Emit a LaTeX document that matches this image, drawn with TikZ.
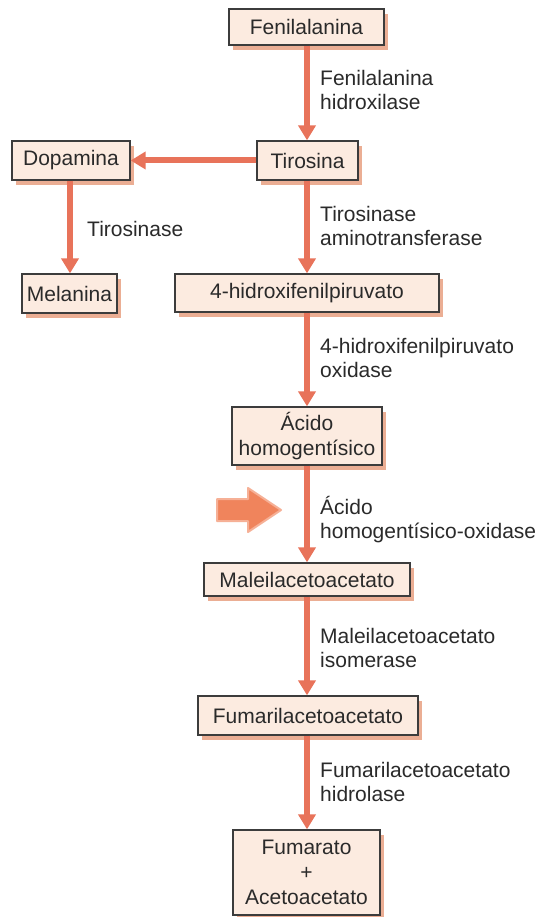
\documentclass[tikz,border=0pt]{standalone}
\usepackage{fontspec}
\setmainfont{Liberation Sans}
\usetikzlibrary{arrows.meta,shadows}
\definecolor{boxfill}{HTML}{FCEBE0}
\definecolor{boxline}{HTML}{3C3C3C}
\definecolor{shadowc}{HTML}{EBAE94}
\definecolor{arrowc}{HTML}{E8735A}
\definecolor{bigarrow}{HTML}{F0845C}
\definecolor{bigarrowedge}{HTML}{F6B096}
\definecolor{txt}{HTML}{2A2A2A}
\begin{document}
\begin{tikzpicture}[x=1pt,y=-1pt,
 box/.style={draw=boxline, line width=1.3pt, fill=boxfill, inner sep=0pt, align=center, text=txt,
   font=\fontsize{21}{25}\selectfont,
   drop shadow={shadow xshift=4pt, shadow yshift=-5pt, fill=shadowc, draw=none, opacity=1}},
 lab/.style={anchor=west, inner sep=0pt, align=left, text=txt, font=\fontsize{21}{24}\selectfont},
 flow/.style={draw=arrowc, line width=6pt, -{Triangle[width=17pt,length=15pt]}}
]
\useasboundingbox[fill=white] (0,0) rectangle (541,917);

\node[box, minimum width=155pt, minimum height=36pt] (fen) at (306.5,27) {Fenilalanina};
\node[box, minimum width=101pt, minimum height=39pt] (tir) at (307.5,160.5) {Tirosina};
\node[box, minimum width=118pt, minimum height=39pt] (dop) at (71,160.5) {Dopamina};
\node[box, minimum width=95pt, minimum height=39pt] (mel) at (69.5,293.5) {Melanina};
\node[box, minimum width=264pt, minimum height=38pt] (hpp) at (307,293) {4-hidroxifenilpiruvato};
\node[box, minimum width=150pt, minimum height=58pt] (hga) at (307,436) {Ácido\\homogentísico};
\node[box, minimum width=206pt, minimum height=33pt] (mal) at (307,579.5) {Maleilacetoacetato};
\node[box, minimum width=220pt, minimum height=39pt] (fum) at (308,715.5) {Fumarilacetoacetato};
\node[box, minimum width=147pt, minimum height=85pt] (end) at (306.5,872.5) {Fumarato\\+\\Acetoacetato};

\draw[flow] (fen.south -| 307,0) -- (tir.north -| 307,0);
\draw[flow] (tir.west) -- (tir.west -| dop.east);
\draw[flow] (dop.south -| 70,0) -- (mel.north -| 70,0);
\draw[flow] (tir.south -| 307,0) -- (hpp.north -| 307,0);
\draw[flow] (hpp.south -| 307,0) -- (hga.north -| 307,0);
\draw[flow] (hga.south -| 307,0) -- (mal.north -| 307,0);
\draw[flow] (mal.south -| 307,0) -- (fum.north -| 307,0);
\draw[flow] (fum.south -| 307,0) -- (end.north -| 307,0);

\node[lab] (l1) at (320,89.5) {Fenilalanina\\hidroxilase};
\node[lab] (l2) at (320,225.5) {Tirosinase\\aminotransferase};
\node[lab] (l3) at (320,358) {4-hidroxifenilpiruvato\\oxidase};
\node[lab] (l4) at (320,520) {Ácido\\homogentísico-oxidase};
\node[lab] (l5) at (320,648) {Maleilacetoacetato\\isomerase};
\node[lab] (l6) at (320,782) {Fumarilacetoacetato\\hidrolase};
\node[lab] (l7) at (87,229) {Tirosinase};

\draw[fill=bigarrow, draw=bigarrowedge, line width=2pt, line join=round]
  (217,499) -- (248,499) -- (248,488) -- (281,510) -- (248,532) -- (248,521) -- (217,521) -- cycle;
\end{tikzpicture}
\end{document}
